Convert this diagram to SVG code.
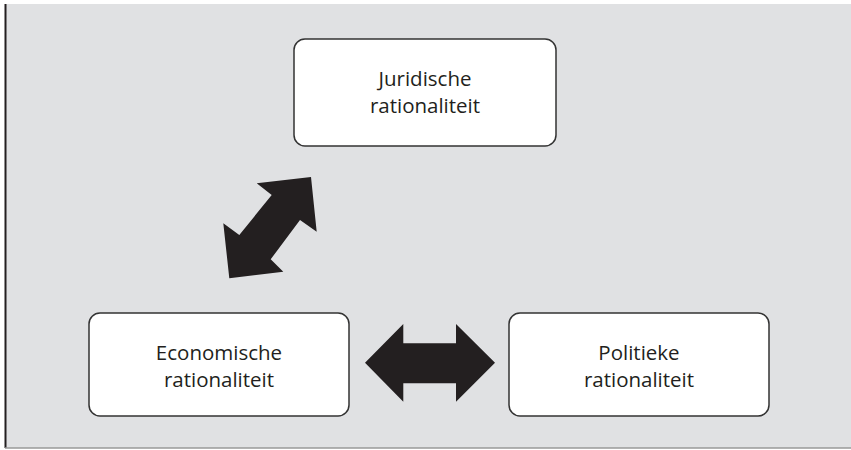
<svg xmlns="http://www.w3.org/2000/svg" width="851" height="450" viewBox="0 0 851 450">
<style>
.box{fill:#ffffff;stroke:#333333;stroke-width:1.5}
.t{font-family:"Open Sans","Liberation Sans",sans-serif;font-size:20.5px;fill:#231f20;text-anchor:middle}
.arr{fill:#231f20}
</style>
<rect x="0" y="0" width="851" height="450" fill="#ffffff"/>
<rect x="5" y="4" width="846" height="444" fill="#e0e1e3"/>
<line x1="5.5" y1="4" x2="5.5" y2="448" stroke="#231f20" stroke-width="2"/>
<line x1="5" y1="448" x2="851" y2="448" stroke="#999999" stroke-width="1.5"/>
<g id="connectors">
<polygon class="arr" points="311,177 316.7,231.7 300,220 270.7,259.3 283.3,271.7 229.3,278.3 223.3,223.3 239.3,235 271.7,195 256.7,183.3"/>
<polygon class="arr" points="365,362.7 403.3,324 403.3,343.3 456,343.3 456,324 495,362.7 456,401.7 456,383.3 403.3,383.3 403.3,401.7"/>
</g>
<g id="juridisch">
<rect class="box" x="294" y="39" width="262" height="107" rx="11"/>
<text class="t" x="425" y="86">Juridische</text>
<text class="t" x="425" y="113">rationaliteit</text>
</g>
<g id="economisch">
<rect class="box" x="89" y="313" width="260" height="103" rx="11"/>
<text class="t" x="219" y="360">Economische</text>
<text class="t" x="219" y="387">rationaliteit</text>
</g>
<g id="politiek">
<rect class="box" x="509" y="313" width="260" height="103" rx="11"/>
<text class="t" x="639" y="360">Politieke</text>
<text class="t" x="639" y="387">rationaliteit</text>
</g>
</svg>
